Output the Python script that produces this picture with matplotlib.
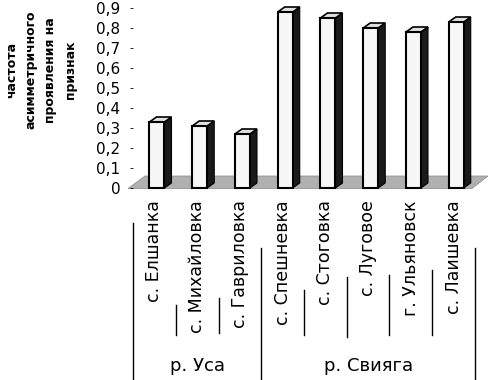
import matplotlib
matplotlib.use("Agg")
import matplotlib.pyplot as plt
from matplotlib.patches import Polygon, Rectangle
from matplotlib.lines import Line2D
import matplotlib.transforms as mtransforms

# ---- data ----
categories = ["с. Елшанка", "с. Михайловка", "с. Гавриловка", "с. Спешневка",
              "с. Стоговка", "с. Луговое", "г. Ульяновск", "с. Лаишевка"]
values = [0.33, 0.31, 0.27, 0.88, 0.85, 0.80, 0.78, 0.83]
groups = ["р. Уса", "р. Свияга"]
group_sizes = [3, 5]
yticks = [0, 0.1, 0.2, 0.3, 0.4, 0.5, 0.6, 0.7, 0.8, 0.9]
ytick_labels = ["0", "0,1", "0,2", "0,3", "0,4", "0,5", "0,6", "0,7", "0,8", "0,9"]
ylabel = "частота\nасимметричного\nпроявления на\nпризнак"

plt.rcParams['font.family'] = ['DejaVu Sans']

W, H = 491, 380
fig = plt.figure(figsize=(W / 100, H / 100), dpi=100)
fig.patch.set_facecolor("white")

ax_l, ax_r, ax_t, ax_b = 133, 475, 8, 188
ax = fig.add_axes([ax_l / W, 1 - ax_b / H, (ax_r - ax_l) / W, (ax_b - ax_t) / H])
n = len(categories)
ax.set_xlim(0, n)
ax.set_ylim(0, 0.9)
for s in ax.spines.values():
    s.set_visible(False)
ax.set_xticks([])
ax.set_yticks(yticks)
ax.set_yticklabels(ytick_labels, fontsize=11)
ax.tick_params(axis="y", length=2, width=0.6, pad=7, colors="black")
ax.patch.set_alpha(0)

px_x = (n) / (ax_r - ax_l)      # data units per pixel in x
px_y = 0.9 / (ax_b - ax_t)      # data units per pixel in y

# floor
floor = Polygon([(-5 * px_x, -0.5 * px_y), (339 * px_x, -0.5 * px_y),
                 (355 * px_x, 12 * px_y), (12 * px_x, 12 * px_y)],
                closed=True, facecolor="#b0b0b0", edgecolor="#888888",
                lw=0.5, clip_on=False, zorder=1)
ax.add_patch(floor)

# 3D-looking bars
bw = 15 * px_x
dx = 7 * px_x
dy = 5 * px_y
off = 2.6 * px_x
for i, v in enumerate(values):
    x0 = i + 0.5 - bw / 2 + off
    x1 = x0 + bw
    side = Polygon([(x1, 0), (x1 + dx, dy), (x1 + dx, v + dy), (x1, v)],
                   closed=True, facecolor="#1a1a1a", edgecolor="black",
                   lw=0.8, clip_on=False, zorder=3)
    top = Polygon([(x0, v), (x1, v), (x1 + dx, v + dy), (x0 + dx, v + dy)],
                  closed=True, facecolor="#e0e0e0", edgecolor="black",
                  lw=1.2, clip_on=False, zorder=3)
    front = Rectangle((x0, 0), bw, v, facecolor="#f7f7f7", edgecolor="black",
                      lw=1.5, clip_on=False, zorder=4)
    ax.add_patch(side)
    ax.add_patch(top)
    ax.add_patch(front)

# category labels
xt = ax.get_xaxis_transform()
lab_y = -(200 - ax_b) / (ax_b - ax_t)
for i, c in enumerate(categories):
    ax.text(i + 0.5, lab_y, c, rotation=90, ha="center", va="top",
            fontsize=12.5, transform=xt)

# separators (x in data, y in figure pixels)
bt = mtransforms.blended_transform_factory(ax.transData, fig.transFigure)
seps = [(0, 223, 380), (1, 305, 335), (2, 298, 333), (3, 248, 380),
        (4, 290, 335), (5, 277, 337), (6, 275, 335), (7, 270, 335), (8, 248, 380)]
for k, y0, y1 in seps:
    fig.add_artist(Line2D([k, k], [1 - y0 / H, 1 - y1 / H], transform=bt,
                          color="black", lw=1.0))

# group labels
start = 0
for g, sz in zip(groups, group_sizes):
    ax.text(start + sz / 2, 1 - 366 / H, g, ha="center", va="center",
            fontsize=13, transform=bt)
    start += sz

# y label
fig.text(41 / W, 1 - 70 / H, ylabel, rotation=90, ha="center", va="center",
         fontsize=9, fontweight="bold", multialignment="center",
         linespacing=1.65)

fig.savefig("out.png", dpi=100, facecolor="white")
